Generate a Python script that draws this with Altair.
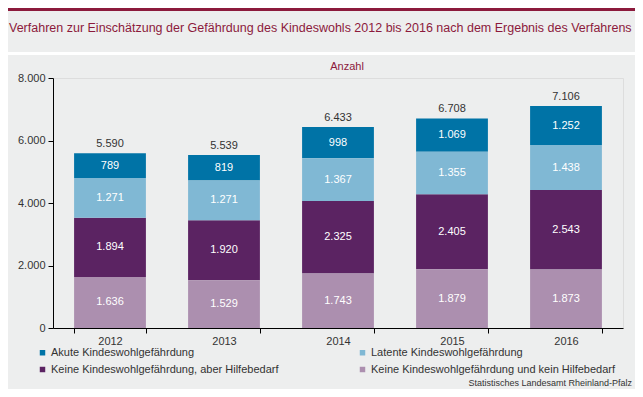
import altair as alt
import pandas as pd

YEARS = ["2012", "2013", "2014", "2015", "2016"]
SERIES = [
    "Akute Kindeswohlgefährdung",
    "Keine Kindeswohlgefährdung, aber Hilfebedarf",
    "Latente Kindeswohlgefährdung",
    "Keine Kindeswohlgefährdung und kein Hilfebedarf",
]
AKUT = [789, 819, 998, 1069, 1252]
HILFE = [1894, 1920, 2325, 2405, 2543]
LATENT = [1271, 1271, 1367, 1355, 1438]
KEIN = [1636, 1529, 1743, 1879, 1873]
COLORS = ["#0073A6", "#5B2362", "#80B8D4", "#AC8FAF"]
STACK_POS = [3, 1, 2, 0]  # 0 = bottom of stack
Y_TICKS = [0, 2000, 4000, 6000, 8000]

TITLE = "Verfahren zur Einschätzung der Gefährdung des Kindeswohls 2012 bis 2016 nach dem Ergebnis des Verfahrens"
UNIT = "Anzahl"
SOURCE = "Statistisches Landesamt Rheinland-Pfalz"

FONT = "Liberation Sans"
DARK_RED = "#8C1A3C"
TEXT = "#333333"

rows = []
for s, vals, pos in zip(SERIES, [AKUT, HILFE, LATENT, KEIN], STACK_POS):
    for y, v in zip(YEARS, vals):
        rows.append({"year": y, "series": s, "value": v, "ord": pos})
df = pd.DataFrame(rows)

de_fmt = "replace(format(datum.value, ','), ',', '.')"

x_enc = alt.X(
    "year:N",
    title=None,
    scale=alt.Scale(paddingInner=0.37, paddingOuter=0.185),
    axis=alt.Axis(
        labelAngle=0, tickBand="extent", domainColor="black", tickColor="black",
        tickSize=5, labelFontSize=11, labelColor=TEXT, labelPadding=2, labelFont=FONT,
    ),
)
y_scale = alt.Scale(domain=[0, 8000])

bars = alt.Chart(df).mark_bar().encode(
    x=x_enc,
    y=alt.Y(
        "value:Q", stack="zero", title=None, scale=y_scale,
        axis=alt.Axis(
            values=Y_TICKS, grid=False, domainColor="black", tickColor="black",
            tickSize=5, labelFontSize=11, labelColor=TEXT, labelPadding=3,
            labelExpr=de_fmt, labelFont=FONT,
        ),
    ),
    color=alt.Color(
        "series:N",
        scale=alt.Scale(domain=SERIES, range=COLORS),
        legend=alt.Legend(
            title=None, orient="none", legendX=-16, legendY=269, columns=2,
            symbolType="square", symbolSize=30, symbolStrokeWidth=0,
            labelFontSize=11, labelColor=TEXT, labelFont=FONT,
            columnPadding=78, rowPadding=5, labelOffset=3, labelLimit=400,
        ),
    ),
    order=alt.Order("ord:Q"),
)

seg_labels = (
    alt.Chart(df)
    .transform_stack(stack="value", groupby=["year"], as_=["v0", "v1"],
                     sort=[alt.SortField("ord", order="ascending")])
    .transform_calculate(mid="(datum.v0 + datum.v1) / 2", lab=de_fmt)
    .mark_text(color="white", fontSize=11, font=FONT, baseline="middle")
    .encode(x=alt.X("year:N"), y=alt.Y("mid:Q", scale=y_scale), text="lab:N")
)

totals = (
    alt.Chart(df)
    .transform_aggregate(total="sum(value)", groupby=["year"])
    .transform_calculate(lab="replace(format(datum.total, ','), ',', '.')")
    .mark_text(color=TEXT, fontSize=11, font=FONT, baseline="bottom", dy=-4)
    .encode(x=alt.X("year:N"), y=alt.Y("total:Q", scale=y_scale), text="lab:N")
)

title_txt = alt.Chart(pd.DataFrame({"t": [TITLE]})).mark_text(
    color=DARK_RED, fontSize=12.5, font=FONT, align="left", baseline="alphabetic"
).encode(x=alt.value(-44), y=alt.value(-46), text="t:N")

unit_txt = alt.Chart(pd.DataFrame({"t": [UNIT]})).mark_text(
    color=DARK_RED, fontSize=11, font=FONT, align="center", baseline="middle"
).encode(x=alt.value(294), y=alt.value(-11), text="t:N")

source_txt = alt.Chart(pd.DataFrame({"t": [SOURCE]})).mark_text(
    color=TEXT, fontSize=9, font=FONT, align="right", baseline="middle"
).encode(x=alt.value(579), y=alt.value(305), text="t:N")

deco = pd.DataFrame({"a": [0]})
top_bar = alt.Chart(deco).mark_rule(color=DARK_RED, strokeWidth=3).encode(
    x=alt.value(-45), x2=alt.value(600), y=alt.value(-68.5)
)
white_line = alt.Chart(deco).mark_rule(color="white", strokeWidth=3).encode(
    x=alt.value(-45), x2=alt.value(600), y=alt.value(-24.5)
)

chart = (
    alt.layer(top_bar, white_line, bars, seg_labels, totals, title_txt, unit_txt, source_txt)
    .properties(
        width=570, height=250,
        autosize=alt.AutoSizeParams(type="none"),
        padding={"left": 45, "top": 70, "right": 12, "bottom": 61},
        background="#EDEEEE",
    )
    .configure_view(stroke=None)
    .configure(font=FONT)
)

chart.save("out.html", embed_options={"renderer": "svg", "actions": False})
